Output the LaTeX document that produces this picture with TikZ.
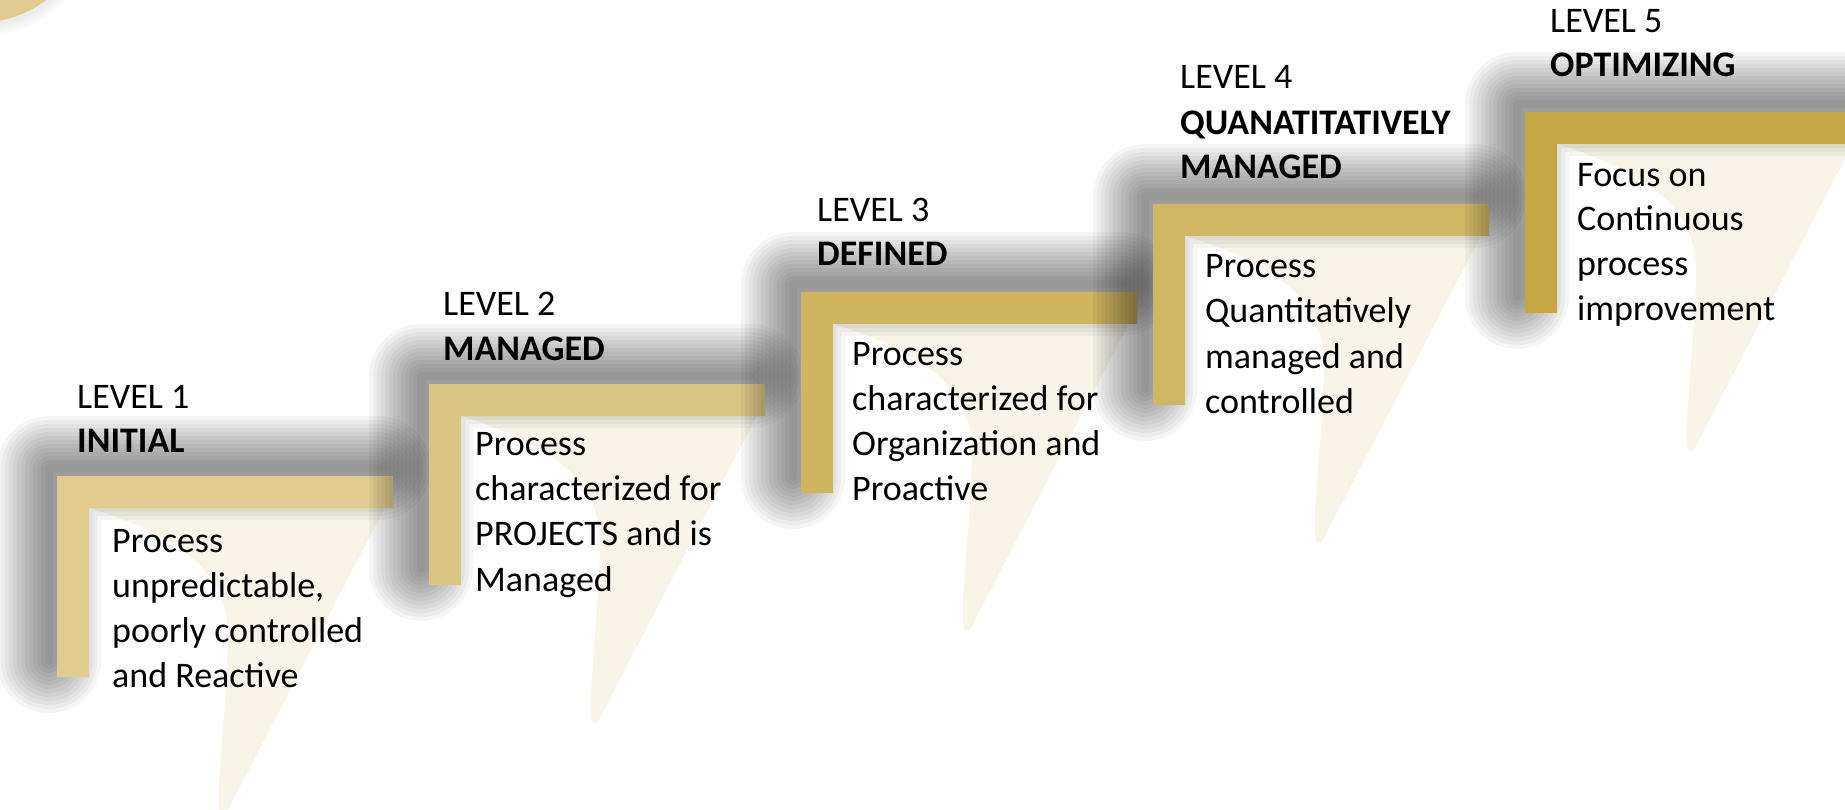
\documentclass[tikz,border=0pt]{standalone}
\usepackage{fontspec}
\setmainfont{Carlito}
\definecolor{g1}{HTML}{DFCC8E}
\definecolor{g2}{HTML}{D9C584}
\definecolor{g3}{HTML}{CFB560}
\definecolor{g4}{HTML}{CFB763}
\definecolor{g5}{HTML}{C5A843}
\definecolor{cream}{HTML}{F8F5E8}
\tikzset{
  lvl/.style={anchor=base west, inner sep=0pt, font=\fontsize{36}{45}\selectfont},
  ttl/.style={anchor=base west, inner sep=0pt, font=\fontsize{36}{45}\selectfont\bfseries},
  dsc/.style={anchor=base west, inner sep=0pt, font=\fontsize{36}{45}\selectfont},
  shadowline/.style={black, opacity=0.04, line join=round, line cap=round},
}
\newcommand\cmmlevel[3]{%
  \begin{scope}[shift={(#1,-#2)}]
    \fill[cream] (33,-32) .. controls (120,-60) and (172,-95) .. (171,-160)
      .. controls (170,-230) and (158,-322) .. (163,-337)
      .. controls (165,-341) and (168,-340) .. (170,-336) -- (336,-16) -- (336,-32) -- cycle;
    \foreach \e in {4,8,...,52} {
      \draw[shadowline, line width={(2*\e)*1pt}] (322,8) -- (-8,8) -- (-8,-185);
    }
    \fill[#3] (0,0) -- (336,0) -- (336,-32) -- (32,-32) -- (32,-201) -- (0,-201) -- cycle;
  \end{scope}}
\begin{document}
\begin{tikzpicture}[x=1pt,y=1pt]
\useasboundingbox (0,0) rectangle (1845,-810);
\clip (0,0) rectangle (1845,-810);
% top-left disc
\foreach \e in {2,4,...,12} {\fill[black, opacity=0.012] (-23,90) circle ({116+\e});}
\fill[g1] (-23,93) circle (116);
% steps
\cmmlevel{57}{476}{g1}
\cmmlevel{429}{384}{g2}
\cmmlevel{801}{292}{g3}
\cmmlevel{1153}{204}{g4}
\cmmlevel{1525}{112}{g5}
% texts level 1
\node[lvl] (l1a) at (77,-408) {LEVEL 1};
\node[ttl] (l1b) at (77,-452) {INITIAL};
\node[dsc] (l1c) at (112,-552) {Process};
\node[dsc] (l1d) at (112,-597) {unpredictable,};
\node[dsc] (l1e) at (112,-642) {poorly controlled};
\node[dsc] (l1f) at (112,-687) {and Reactive};
% level 2
\node[lvl] (l2a) at (443,-316) {LEVEL 2};
\node[ttl] (l2b) at (443,-360) {MANAGED};
\node[dsc] (l2c) at (475,-455) {Process};
\node[dsc] (l2d) at (475,-500) {characterized for};
\node[dsc] (l2e) at (475,-545) {PROJECTS and is};
\node[dsc] (l2f) at (475,-591) {Managed};
% level 3
\node[lvl] (l3a) at (817,-222) {LEVEL 3};
\node[ttl] (l3b) at (817,-266) {DEFINED};
\node[dsc] (l3c) at (852,-365) {Process};
\node[dsc] (l3d) at (852,-410) {characterized for};
\node[dsc] (l3e) at (852,-455) {Organization and};
\node[dsc] (l3f) at (852,-500) {Proactive};
% level 4
\node[lvl] (l4a) at (1180,-89) {LEVEL 4};
\node[ttl] (l4b) at (1180,-135) {QUANATITATIVELY};
\node[ttl] (l4c) at (1180,-179) {MANAGED};
\node[dsc] (l4d) at (1205,-278) {Process};
\node[dsc] (l4e) at (1205,-323) {Quantitatively};
\node[dsc] (l4f) at (1205,-368) {managed and};
\node[dsc] (l4g) at (1205,-413) {controlled};
% level 5
\node[lvl] (l5a) at (1550,-33) {LEVEL 5};
\node[ttl] (l5b) at (1550,-77) {OPTIMIZING};
\node[dsc] (l5c) at (1577,-187) {Focus on};
\node[dsc] (l5d) at (1577,-231) {Continuous};
\node[dsc] (l5e) at (1577,-276) {process};
\node[dsc] (l5f) at (1577,-320) {improvement};
\end{tikzpicture}
\end{document}
